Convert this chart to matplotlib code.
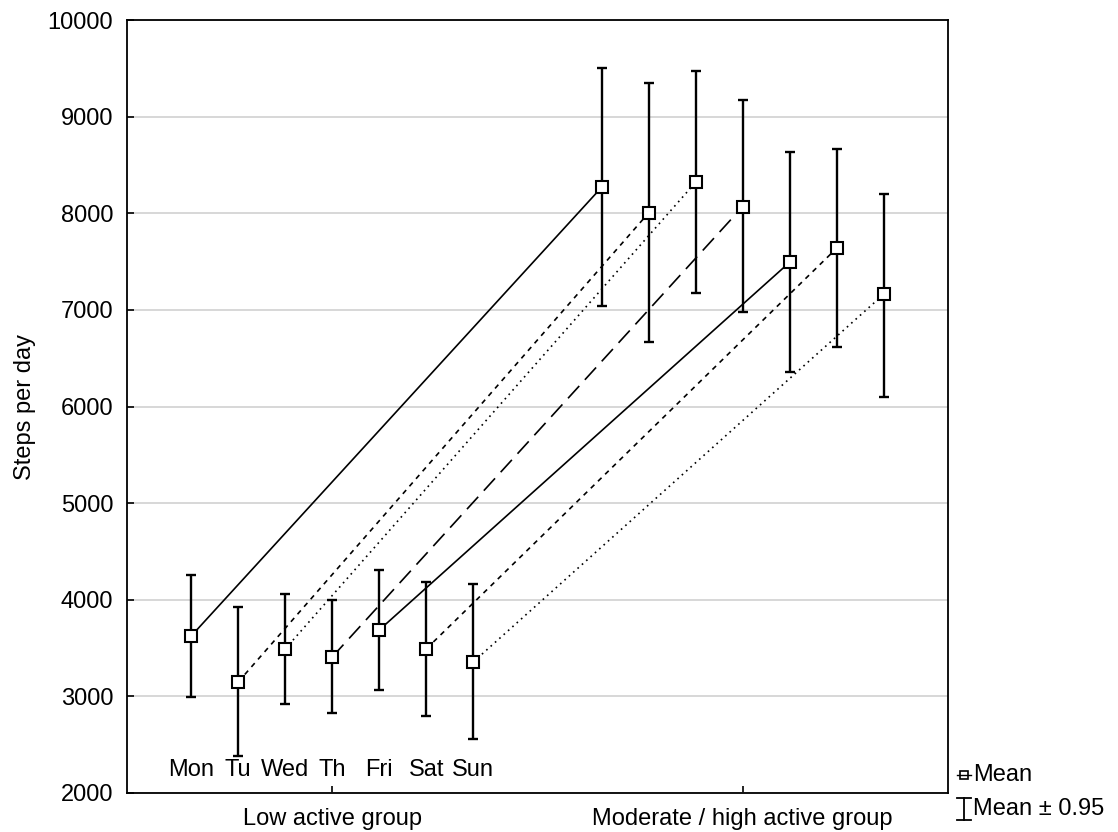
"""Steps per day by weekday for the low and moderate/high active groups."""
import matplotlib

matplotlib.use("Agg")
import matplotlib.pyplot as plt
import numpy as np
from matplotlib.lines import Line2D

plt.rcParams["font.family"] = ["Liberation Sans", "DejaVu Sans"]

# data
groups = ["Low active group", "Moderate / high active group"]
days = ["Mon", "Tu", "Wed", "Th", "Fri", "Sat", "Sun"]

low_mean = [3625, 3149, 3491, 3408, 3687, 3491, 3356]
low_upper = [4257, 3926, 4060, 3998, 4308, 4184, 4164]
low_lower = [2994, 2383, 2921, 2828, 3066, 2797, 2559]

high_mean = [8270, 8005, 8322, 8069, 7494, 7639, 7162]
high_upper = [9502, 9347, 9477, 9174, 8636, 8670, 8201]
high_lower = [7045, 6672, 7180, 6983, 6355, 6614, 6102]

# style of the line joining each day's two group means
line_styles = [
    "-",
    (0, (3, 3)),
    (0, (1, 2.5)),
    (0, (10, 5)),
    "-",
    (0, (3, 3)),
    (0, (1, 2.5)),
]

FS = 17

fig = plt.figure(figsize=(11.18, 8.32), dpi=100)
ax = fig.add_axes([0.1136, 0.0469, 0.7343, 0.929])

offsets = (np.arange(len(days)) - 3) * 0.1145
x_low = 1 + offsets
x_high = 2 + offsets

ax.grid(axis="y", color="#d4d4d4", lw=1.3, zorder=0)

for i in range(len(days)):
    ax.plot(
        [x_low[i], x_high[i]],
        [low_mean[i], high_mean[i]],
        color="black",
        lw=1.2,
        linestyle=line_styles[i],
        zorder=2,
    )

for xs, mean, upper, lower in [
    (x_low, low_mean, low_upper, low_lower),
    (x_high, high_mean, high_upper, high_lower),
]:
    mean = np.array(mean)
    yerr = [mean - np.array(lower), np.array(upper) - mean]
    ax.errorbar(
        xs,
        mean,
        yerr=yerr,
        fmt="none",
        ecolor="black",
        elinewidth=1.7,
        capsize=3.7,
        capthick=1.7,
        zorder=3,
    )
    ax.plot(
        xs,
        mean,
        linestyle="none",
        marker="s",
        markersize=8.3,
        markerfacecolor="white",
        markeredgecolor="black",
        markeredgewidth=1.5,
        zorder=4,
    )

# day names inside the plot, under the low group
for x, name in zip(x_low, days):
    ax.text(
        x,
        0.03,
        name,
        transform=ax.get_xaxis_transform(),
        ha="center",
        va="center",
        fontsize=FS,
    )

ax.set_xlim(0.5, 2.5)
ax.set_ylim(2000, 10000)
ax.set_xticks([1, 2])
ax.set_xticklabels(groups, fontsize=FS)
ax.set_yticks(np.arange(2000, 10001, 1000))
ax.tick_params(axis="both", direction="in", length=5, width=1.2, labelsize=FS)
ax.tick_params(axis="x", pad=11)
ax.tick_params(axis="y", pad=10)
ax.set_ylabel("Steps per day", fontsize=FS)
ax.yaxis.set_label_coords(-0.111, 0.5)
for spine in ax.spines.values():
    spine.set_linewidth(1.3)

# legend drawn outside the axes, lower right
W, H = 1118.0, 832.0
fig.add_artist(
    Line2D([957 / W, 971 / W], [1 - 775 / H, 1 - 775 / H], color="black", lw=1)
)
fig.add_artist(
    Line2D(
        [964 / W],
        [1 - 775 / H],
        marker="s",
        markersize=6,
        markerfacecolor="none",
        markeredgecolor="black",
        markeredgewidth=1.2,
    )
)
fig.text(973 / W, 1 - 775 / H, "Mean", fontsize=FS, va="center", ha="left")
ix = 964 / W
fig.add_artist(Line2D([ix, ix], [1 - 798 / H, 1 - 820 / H], color="black", lw=1.3))
fig.add_artist(Line2D([957 / W, 971 / W], [1 - 798 / H] * 2, color="black", lw=1.3))
fig.add_artist(Line2D([957 / W, 971 / W], [1 - 820 / H] * 2, color="black", lw=1.3))
fig.text(973 / W, 1 - 809 / H, "Mean \u00b1 0.95", fontsize=FS, va="center", ha="left")

fig.savefig("out.png", dpi=100)
plt.close(fig)
